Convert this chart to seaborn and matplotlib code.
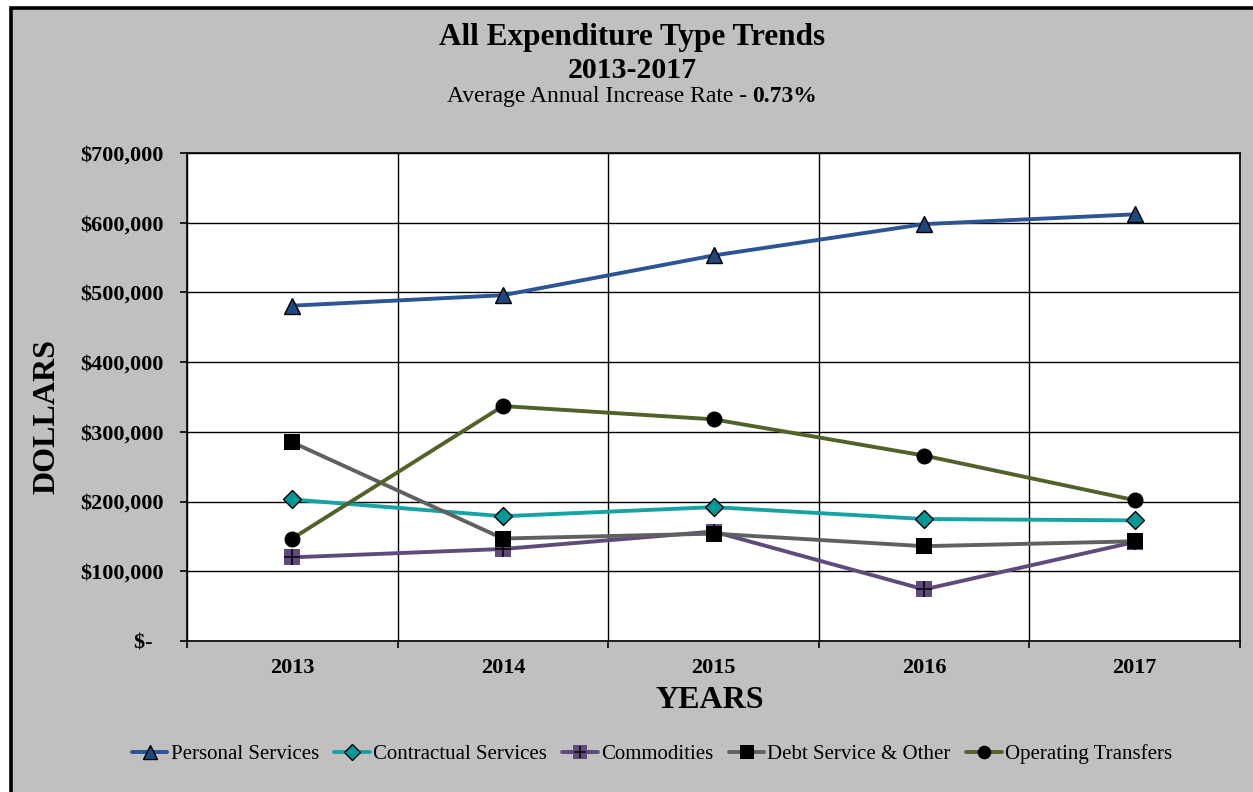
import matplotlib
matplotlib.use("Agg")
import matplotlib.pyplot as plt
import seaborn as sns
import pandas as pd
import numpy as np
from matplotlib.lines import Line2D
from matplotlib.patches import Rectangle
from matplotlib.legend_handler import HandlerTuple
from matplotlib.ticker import FixedLocator, FuncFormatter

# --- data -------------------------------------------------------------
years = ["2013", "2014", "2015", "2016", "2017"]
personal_services = [481000, 496000, 553000, 598000, 612000]
contractual_services = [203000, 179000, 192000, 175000, 173000]
commodities = [120000, 132000, 157000, 74000, 142000]
debt_service_other = [285000, 147000, 154000, 136000, 143000]
operating_transfers = [147000, 337000, 318000, 266000, 202000]

series_names = ["Personal Services", "Contractual Services", "Commodities",
                "Debt Service & Other", "Operating Transfers"]
series_values = [personal_services, contractual_services, commodities,
                 debt_service_other, operating_transfers]

# --- styling ----------------------------------------------------------
sns.set_theme(style="white")
plt.rcParams["font.family"] = ["Liberation Serif", "DejaVu Serif"]
for key in ["text.color", "axes.labelcolor", "xtick.color", "ytick.color"]:
    plt.rcParams[key] = "black"

styles = {
    "Personal Services": dict(color="#2B5595", marker="^", mfc="#1F497D", ms=11.5),
    "Contractual Services": dict(color="#16A3A3", marker="D", mfc="#009999", ms=9.3),
    "Commodities": dict(color="#604A7B", marker="s", mfc="#604A7B", ms=12),
    "Debt Service & Other": dict(color="#606060", marker="s", mfc="#000000", ms=11.5),
    "Operating Transfers": dict(color="#4F6228", marker="o", mfc="#000000", ms=11.5),
}

W, H = 1253, 792
fig = plt.figure(figsize=(W / 100, H / 100), dpi=100, facecolor="white")

# outer chart frame (grey area with heavy black border)
frame = Rectangle((10.5 / W, -0.2), 1.3, 1.2 - 7.5 / H, transform=fig.transFigure,
                  facecolor="#C0C0C0", edgecolor="black", linewidth=2.6,
                  zorder=0, clip_on=False)
fig.patches.append(frame)

ax = fig.add_axes([187 / W, 1 - 641 / H, (1240 - 187) / W, (641 - 153) / H])
ax.set_facecolor("white")
ax.set_zorder(1)

x_idx = np.arange(len(years))
long_rows = []
for name, vals in zip(series_names, series_values):
    for xi, v in zip(x_idx, vals):
        long_rows.append({"idx": xi, "value": v, "series": name})
df = pd.DataFrame(long_rows)

handles = []
for name in series_names:
    st = styles[name]
    sub = df[df["series"] == name]
    edge_w = 1.0 if st["marker"] in "^D" else 0.0
    sns.lineplot(data=sub, x="idx", y="value", ax=ax, color=st["color"],
                 linewidth=2.8, marker=st["marker"], markersize=st["ms"],
                 markerfacecolor=st["mfc"], markeredgecolor="black",
                 markeredgewidth=edge_w, legend=False, zorder=3)
    h = Line2D([], [], color=st["color"], linewidth=2.8, marker=st["marker"],
               markersize=st["ms"] * 0.85, markerfacecolor=st["mfc"],
               markeredgecolor="black", markeredgewidth=edge_w)
    if name == "Commodities":
        # black cross drawn on top of the purple squares
        sns.scatterplot(x=sub["idx"], y=sub["value"], ax=ax, marker="+",
                        s=120, color="black", linewidth=1.1, zorder=4,
                        legend=False)
        cross = Line2D([], [], linestyle="none", marker="+", markersize=9,
                       color="black", markeredgewidth=1.1)
        h = (h, cross)
    handles.append(h)

# --- axes -------------------------------------------------------------
ax.set_xlim(-0.5, 4.5)
ax.set_ylim(0, 700000)
ax.set_xlabel("")
ax.set_ylabel("")

ax.xaxis.set_major_locator(FixedLocator(np.arange(-0.5, 5.0, 1.0)))
ax.xaxis.set_minor_locator(FixedLocator(x_idx))
ax.xaxis.set_major_formatter(FuncFormatter(lambda v, p: ""))
ax.xaxis.set_minor_formatter(FuncFormatter(lambda v, p: years[int(round(v))]))
ax.tick_params(axis="x", which="major", direction="out", length=5, width=1.2,
               color="black", bottom=True)
ax.tick_params(axis="x", which="minor", length=0, pad=12, labelsize=16,
               bottom=True)

yticks = np.arange(0, 700001, 100000)
ax.yaxis.set_major_locator(FixedLocator(yticks))
ax.yaxis.set_major_formatter(FuncFormatter(
    lambda v, p: "$-  " if v == 0 else f"${v:,.0f}"))
ax.tick_params(axis="y", direction="out", length=5, width=1.2, color="black",
               pad=12, labelsize=16, left=True)
for lab in ax.get_xticklabels(minor=True) + ax.get_yticklabels():
    lab.set_fontweight("bold")
    lab.set_color("black")

ax.grid(True, which="major", color="black", linewidth=1.0)
ax.grid(False, which="minor")
for sp in ax.spines.values():
    sp.set_color("black")
    sp.set_linewidth(1.2)

# --- titles and axis titles --------------------------------------------
cx = 632 / W
fig.text(cx, 1 - 45 / H, "All Expenditure Type Trends", ha="center",
         va="baseline", fontsize=22.5, fontweight="bold")
fig.text(cx, 1 - 78 / H, "2013-2017", ha="center", va="baseline",
         fontsize=21.5, fontweight="bold")

renderer = fig.canvas.get_renderer()
t_a = fig.text(0, 1 - 102 / H, "Average Annual Increase Rate - ", ha="left",
               va="baseline", fontsize=17)
t_b = fig.text(0, 1 - 102 / H, "0.73%", ha="left", va="baseline",
               fontsize=17, fontweight="bold")
wa = t_a.get_window_extent(renderer).width
wb = t_b.get_window_extent(renderer).width
start = cx * W - (wa + wb) / 2
t_a.set_x(start / W)
t_b.set_x((start + wa) / W)

fig.text(47 / W, 1 - 417 / H, "DOLLARS", rotation=90, ha="center",
         va="center", fontsize=23, fontweight="bold")
fig.text(710 / W, 1 - 701 / H, "YEARS", ha="center", va="center",
         fontsize=23, fontweight="bold")

# --- legend -----------------------------------------------------------
fig.legend(handles, series_names, loc="center", bbox_to_anchor=(652 / W, 1 - 754 / H),
           ncol=5, frameon=False, fontsize=15, handlelength=1.7,
           handletextpad=0.15, columnspacing=0.75,
           handler_map={tuple: HandlerTuple(ndivide=1)})

fig.savefig("out.png", dpi=100, facecolor="white")
